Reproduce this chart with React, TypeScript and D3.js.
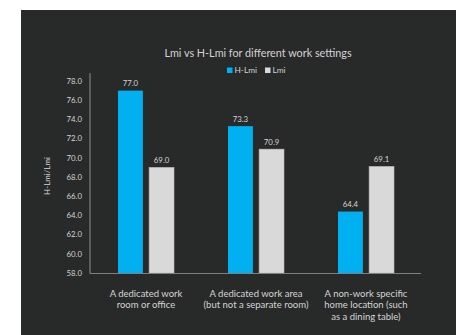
import React from "react";
import * as d3 from "d3";

const categories = [
  ["A dedicated work", "room or office"],
  ["A dedicated work area", "(but not a separate room)"],
  ["A non-work specific", "home location (such", "as a dining table)"],
];
const seriesNames = ["H-Lmi", "Lmi"];
const hLmi = [77.0, 73.3, 64.4];
const lmi = [69.0, 70.9, 69.1];
const yTicks = [58, 60, 62, 64, 66, 68, 70, 72, 74, 76, 78];

const W = 456;
const H = 335;
const colors = ["#00b0f0", "#d9d9d9"];
const textColor = "#d4d4d4";
const font = "Lato, 'Open Sans', sans-serif";

export default function App() {
  const x0 = d3.scaleBand<number>().domain([0, 1, 2]).range([91, 421]).paddingInner(0).paddingOuter(0);
  const x1 = d3.scaleBand<number>().domain([0, 1]).range([0, 56]).paddingInner(0.2);
  const y = d3.scaleLinear().domain([58, 78]).range([273, 81]);
  const bw = x1.bandwidth();
  const series = [hLmi, lmi];

  return (
    <svg width={W} height={H} style={{ position: "fixed", left: 0, top: 0, background: "#fff" }} fontFamily={font}>
      <rect x={21} y={10} width={W - 21} height={H - 10} fill="#282929" />
      <text x={258} y={57} textAnchor="middle" fill={textColor} fontSize={10.8}>
        Lmi vs H-Lmi for different work settings
      </text>
      {seriesNames.map((s, i) => {
        const lx = i === 0 ? 227 : 265;
        return (
          <g key={s}>
            <rect x={lx} y={67.5} width={5.5} height={5.5} fill={colors[i]} />
            <text x={lx + 7.5} y={73.3} fill={textColor} fontSize={8.3}>{s}</text>
          </g>
        );
      })}
      {yTicks.map((t) => (
        <text key={t} x={82} y={y(t) + 2.8} textAnchor="end" fill={textColor} fontSize={7.8}>
          {t.toFixed(1)}
        </text>
      ))}
      <text
        transform={`translate(50,176) rotate(-90)`}
        textAnchor="middle"
        fill={textColor}
        fontSize={8}
      >
        H-Lmi/Lmi
      </text>
      {categories.map((c, ci) => {
        const gx = (x0(ci) as number) + (x0.bandwidth() - 56) / 2;
        return (
          <g key={ci}>
            {series.map((vals, si) => {
              const bx = gx + (x1(si) as number);
              const by = y(vals[ci]);
              return (
                <g key={si}>
                  <rect x={bx} y={by} width={bw} height={y(58) - by} fill={colors[si]} stroke={si === 1 ? "#bcbcbc" : "none"} strokeWidth={0.6} />
                  <text x={bx + bw / 2} y={by - 4.5} textAnchor="middle" fill={textColor} fontSize={7.8}>
                    {vals[ci].toFixed(1)}
                  </text>
                </g>
              );
            })}
            {c.map((line, li) => (
              <text key={li} x={(x0(ci) as number) + x0.bandwidth() / 2} y={296.5 + li * 11.7} textAnchor="middle" fill={textColor} fontSize={9.5}>
                {line}
              </text>
            ))}
          </g>
        );
      })}
      <line x1={90} x2={90} y1={73} y2={273.5} stroke="#7f8080" strokeWidth={1.2} />
      <line x1={90} x2={421} y1={273.5} y2={273.5} stroke="#7f8080" strokeWidth={1.2} />
    </svg>
  );
}
